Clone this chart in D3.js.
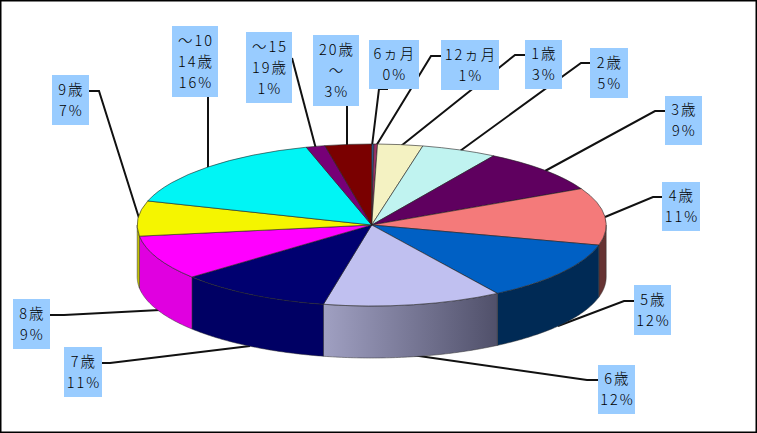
<!DOCTYPE html>
<html>
<head>
<meta charset="UTF-8" />
<script src="https://cdn.jsdelivr.net/npm/d3@7"></script>
<title>年齢別割合</title>
<style>
    html, body { margin: 0; padding: 0; background: white; }
    svg { display: block; }
    text { font-family: "Noto Sans CJK JP", "Noto Sans", sans-serif; font-size: 14.5px; font-weight: 300; fill: #000; letter-spacing: 2px; }
</style>
</head>
<body>
<div id="chart"></div>
<script>
// slice sizes, printed labels kept as they appear
const categories = ["6ヵ月", "12ヵ月", "1歳", "2歳", "3歳", "4歳", "5歳", "6歳", "7歳", "8歳", "9歳", "～14歳", "～19歳", "20歳～"];
const values = [0.15, 0.25, 3.1, 5.2, 8.9, 11.4, 12.0, 12.3, 10.6, 8.9, 7.0, 15.7, 1.3, 3.2];
const labelLines = [["6ヵ月", "0%"], ["12ヵ月", "1%"], ["1歳", "3%"], ["2歳", "5%"], ["3歳", "9%"], ["4歳", "11%"], ["5歳", "12%"], ["6歳", "12%"], ["7歳", "11%"], ["8歳", "9%"], ["9歳", "7%"], ["～10", "14歳", "16%"], ["～15", "19歳", "1%"], ["20歳", "～", "3%"]];

const topColors = ["#3366aa", "#993366", "#f4f2c2", "#c0f3f0", "#5f005f", "#f47a7a", "#0060c4", "#c0c0f0", "#000070", "#ff00ff", "#f5f500", "#00f5f5", "#770077", "#7a0000"];
const sideColors = ["#224477", "#662244", "#a0a080", "#80a0a0", "#400040", "#663333", "#002a55", "url(#sideGrad)", "#000064", "#e000e0", "#c8c800", "#00a0a0", "#500050", "#500000"];

// label box [x, y, w, h] and leader line points
const boxes = [[369, 40, 50, 49], [441, 40, 58, 50], [525, 40, 37, 49], [590, 48, 38, 50], [665, 96, 37, 49], [662, 182, 38, 49], [634, 285, 37, 50], [598, 365, 37, 49], [64, 347, 38, 50], [13, 299, 37, 50], [52, 75, 37, 50], [172, 26, 46, 71], [246, 32, 46, 71], [313, 35, 46, 71]];
const leaders = [
    [[388, 89], [379, 89], [372, 146]],
    [[441, 56], [431, 56], [376, 146]],
    [[525, 55], [515, 55], [401, 146]],
    [[590, 63], [581, 63], [460, 151]],
    [[665, 111], [655, 111], [545, 171]],
    [[662, 197], [653, 197], [605, 217]],
    [[634, 301], [624, 301], [558, 326]],
    [[598, 380], [587, 380], [412, 355]],
    [[102, 363], [110, 363], [250, 346]],
    [[50, 315], [64, 315], [160, 310]],
    [[89, 91], [99, 91], [139, 218]],
    [[208, 97], [208, 170]],
    [[292, 58], [316, 149]],
    [[347, 106], [347, 146]]
];

const w = 757, h = 433;
const cx = 371.7, cy = 225, rx = 234.5, ry = 81, depth = 52;

const svg = d3.select("#chart").append("svg").attr("width", w).attr("height", h);

const grad = svg.append("defs").append("linearGradient").attr("id", "sideGrad");
grad.append("stop").attr("offset", "0%").attr("stop-color", "#a0a0c2");
grad.append("stop").attr("offset", "100%").attr("stop-color", "#50506a");

svg.append("rect").attr("x", 0.75).attr("y", 0.75).attr("width", w - 1.5).attr("height", h - 1.5)
    .attr("fill", "white").attr("stroke", "black").attr("stroke-width", 1.5);

// leaders go under the pie
svg.append("g").selectAll("path").data(leaders).enter().append("path")
    .attr("d", d3.line())
    .attr("fill", "none").attr("stroke", "#111").attr("stroke-width", 2);

const pie = d3.pie().sort(null).value(d => d);
const arcs = pie(values);

// side wall, only the front half of the ellipse shows
const ex = t => cx + rx * Math.sin(t);
const ey = t => cy - ry * Math.cos(t);
const wall = d3.line();
const sides = arcs.filter(a => a.endAngle > Math.PI / 2 && a.startAngle < Math.PI * 1.5);
svg.append("g").selectAll("path").data(sides).enter().append("path")
    .attr("d", a => {
        const t0 = Math.max(a.startAngle, Math.PI / 2);
        const t1 = Math.min(a.endAngle, Math.PI * 1.5);
        const ts = d3.range(0, 61).map(i => t0 + (t1 - t0) * i / 60);
        const upper = ts.map(t => [ex(t), ey(t)]);
        const lower = ts.slice().reverse().map(t => [ex(t), ey(t) + depth]);
        return wall(upper.concat(lower)) + "Z";
    })
    .attr("fill", a => sideColors[a.index])
    .attr("stroke", "#333").attr("stroke-width", 0.5);

// top face: ordinary d3 arcs squashed into the ellipse
const arc = d3.arc().innerRadius(0).outerRadius(rx);
svg.append("g")
    .attr("transform", "translate(" + cx + "," + cy + ") scale(1," + (ry / rx) + ")")
    .selectAll("path").data(arcs).enter().append("path")
    .attr("d", arc)
    .attr("fill", a => topColors[a.index])
    .attr("stroke", "#222").attr("stroke-width", 0.6)
    .attr("vector-effect", "non-scaling-stroke");

const labels = svg.append("g").selectAll("g").data(categories).enter().append("g");
labels.append("rect")
    .attr("x", (d, i) => boxes[i][0]).attr("y", (d, i) => boxes[i][1])
    .attr("width", (d, i) => boxes[i][2]).attr("height", (d, i) => boxes[i][3])
    .attr("fill", "#99ccff");
labels.each(function (d, i) {
    const [x, y, bw, bh] = boxes[i];
    const rows = labelLines[i];
    const step = 21;
    d3.select(this).selectAll("text").data(rows).enter().append("text")
        .attr("x", x + bw / 2 + 1)
        .attr("y", (r, j) => y + bh / 2 + (j - (rows.length - 1) / 2) * step + 5)
        .attr("text-anchor", "middle")
        .text(r => r);
});
</script>
</body>
</html>
